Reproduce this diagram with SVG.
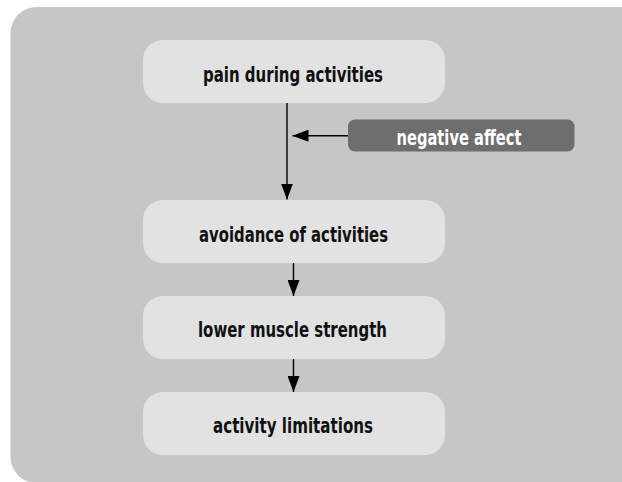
<svg xmlns="http://www.w3.org/2000/svg" width="622" height="482" viewBox="0 0 622 482">
<defs>
<style>
.bg{fill:#c6c6c6}
.node rect{fill:#e2e2e2}
.lbl{font-family:"Liberation Sans Narrow","DejaVu Sans Condensed","Liberation Sans",sans-serif;font-weight:bold;font-size:21px;fill:#111;text-anchor:middle}
.dark rect{fill:#6e6e6e}
.dark text{fill:#fff}
.conn line{stroke:#000;stroke-width:1.4;fill:none}
</style>
<marker id="ah" markerWidth="16" markerHeight="12" refX="16" refY="6" orient="auto" markerUnits="userSpaceOnUse">
<path d="M0,0 L16,6 L0,12 Z" fill="#000"/>
</marker>
</defs>
<rect class="bg" x="10.5" y="7" width="640" height="476" rx="26"/>
<g id="n-pain" class="node">
<rect x="143" y="40" width="302" height="63" rx="20"/>
<text class="lbl" x="293" y="82" textLength="180" lengthAdjust="spacingAndGlyphs">pain during activities</text>
</g>
<g id="n-neg" class="node dark">
<rect x="348" y="119.5" width="226.5" height="32" rx="7"/>
<text class="lbl" x="459" y="144.5" textLength="125" lengthAdjust="spacingAndGlyphs">negative affect</text>
</g>
<g id="n-avoid" class="node">
<rect x="143" y="200" width="302" height="63" rx="20"/>
<text class="lbl" x="293.5" y="241.5" textLength="189" lengthAdjust="spacingAndGlyphs">avoidance of activities</text>
</g>
<g id="n-muscle" class="node">
<rect x="143" y="296" width="302" height="63" rx="20"/>
<text class="lbl" x="292.5" y="337" textLength="189" lengthAdjust="spacingAndGlyphs">lower muscle strength</text>
</g>
<g id="n-limit" class="node">
<rect x="143" y="392" width="302" height="63" rx="20"/>
<text class="lbl" x="293" y="433" textLength="160" lengthAdjust="spacingAndGlyphs">activity limitations</text>
</g>
<g id="connectors" class="conn">
<line x1="287" y1="103" x2="287" y2="199.5" marker-end="url(#ah)"/>
<line x1="348" y1="135.7" x2="292.5" y2="135.7" marker-end="url(#ah)"/>
<line x1="293.5" y1="263" x2="293.5" y2="296" marker-end="url(#ah)"/>
<line x1="293.5" y1="359" x2="293.5" y2="392" marker-end="url(#ah)"/>
</g>
</svg>
